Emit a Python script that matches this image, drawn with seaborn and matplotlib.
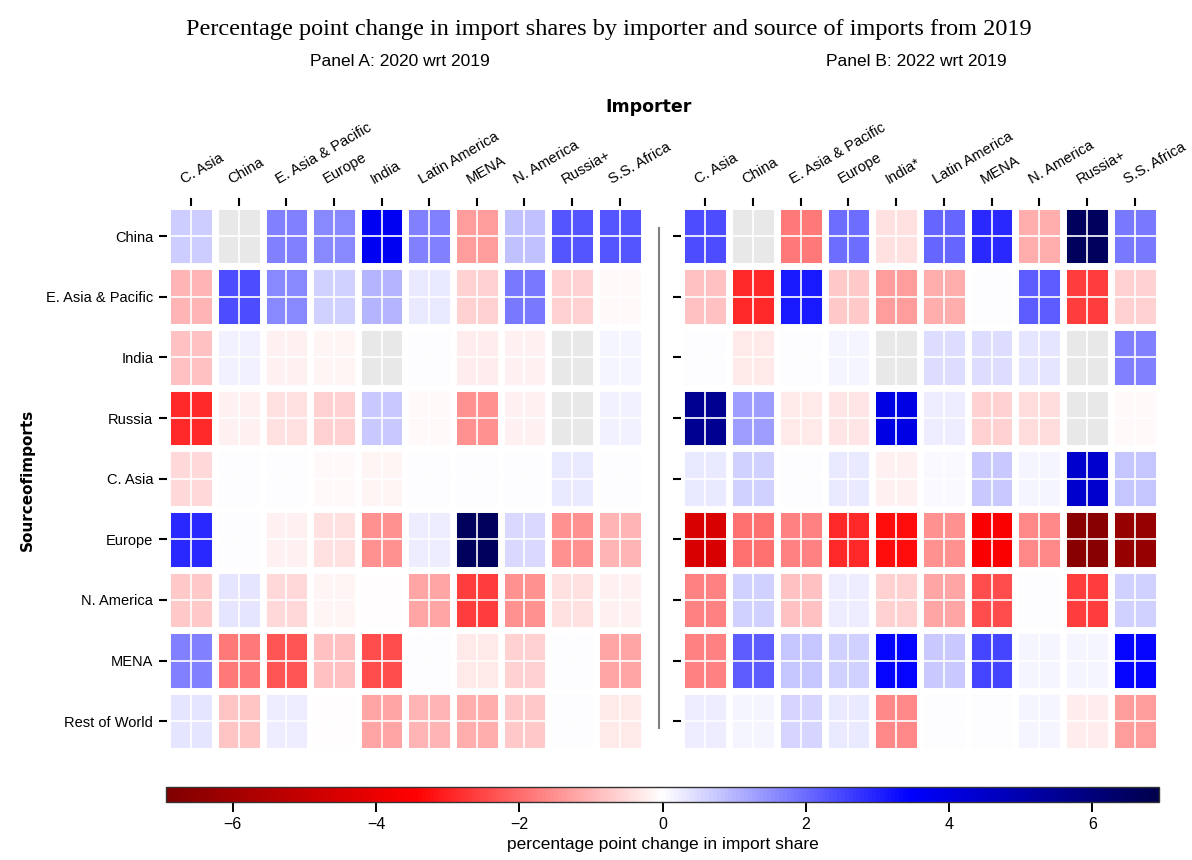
import numpy as np
import matplotlib
matplotlib.use('Agg')
import matplotlib.pyplot as plt
import matplotlib.transforms as mtransforms
import seaborn as sns
from matplotlib import font_manager

nan = np.nan

sources = ['China', 'E. Asia & Pacific', 'India', 'Russia', 'C. Asia',
           'Europe', 'N. America', 'MENA', 'Rest of World']
importers_a = ['C. Asia', 'China', 'E. Asia & Pacific', 'Europe', 'India',
               'Latin America', 'MENA', 'N. America', 'Russia+', 'S.S. Africa']
importers_b = ['C. Asia', 'China', 'E. Asia & Pacific', 'Europe', 'India*',
               'Latin America', 'MENA', 'N. America', 'Russia+', 'S.S. Africa']

# Panel A: 2020 wrt 2019 (rows = source, cols = importer), nan = not shown
panel_a = [
    [0.7, nan, 1.7, 1.6, 3.7, 1.7, -1.3, 0.85, 2.3, 2.3],
    [-1.0, 2.4, 1.6, 0.6, 1.0, 0.3, -0.6, 1.8, -0.6, -0.08],
    [-0.85, 0.2, -0.2, -0.15, nan, 0.02, -0.25, -0.2, nan, 0.12],
    [-2.9, -0.2, -0.4, -0.6, 0.75, -0.1, -1.5, -0.2, nan, 0.2],
    [-0.5, 0.02, 0.02, -0.1, -0.15, 0.05, 0.0, 0.02, 0.3, 0.02],
    [2.9, 0.02, -0.2, -0.4, -1.5, 0.25, 6.6, 0.5, -1.5, -1.0],
    [-0.75, 0.35, -0.5, -0.15, -0.05, -1.2, -2.6, -1.5, -0.4, -0.2],
    [1.7, -1.8, -2.3, -0.85, -2.4, 0.0, -0.3, -0.6, 0.02, -1.2],
    [0.35, -0.8, 0.25, -0.05, -1.2, -1.0, -1.1, -0.75, 0.0, -0.3],
]

# Panel B: 2022 wrt 2019
panel_b = [
    [2.4, nan, -1.8, 2.0, -0.4, 2.1, 2.9, -1.1, 6.6, 1.8],
    [-0.85, -2.9, 3.1, -0.75, -1.3, -1.1, 0.05, 2.2, -2.6, -0.6],
    [0.02, -0.3, 0.05, 0.15, nan, 0.45, 0.45, 0.35, nan, 1.7],
    [5.6, 1.3, -0.3, -0.35, 4.0, 0.25, -0.6, -0.45, nan, -0.1],
    [0.3, 0.6, 0.05, 0.3, -0.2, 0.1, 0.75, 0.15, 4.4, 0.8],
    [-4.5, -1.9, -1.7, -2.9, -3.3, -1.5, -3.6, -1.6, -6.7, -6.3],
    [-1.7, 0.6, -0.85, 0.25, -0.6, -1.2, -2.4, 0.0, -2.6, 0.6],
    [-1.7, 2.2, 0.8, 0.6, 3.4, 0.75, 2.5, 0.15, 0.15, 3.4],
    [0.25, 0.15, 0.55, 0.3, -1.6, 0.05, 0.05, 0.15, -0.25, -1.3],
]

cbar_ticks = [-6, -4, -2, 0, 2, 4, 6]
VLIM = 6.93


def pick_font(names):
    for name in names:
        try:
            font_manager.findfont(font_manager.FontProperties(family=name), fallback_to_default=False)
            return name
        except ValueError:
            pass
    return 'DejaVu Sans'


narrow = pick_font(['Liberation Sans Narrow', 'Liberation Sans'])
serif = pick_font(['Liberation Serif', 'DejaVu Serif'])


def expand(values):
    # jede Zelle als 2x2 Block
    arr = np.array(values, dtype=float)
    return np.repeat(np.repeat(arr, 2, axis=0), 2, axis=1)


def draw_panel(fig, ax, values, importers, show_ylabels, cbar_ax=None):
    data = expand(values)
    sns.heatmap(data, ax=ax, cmap='seismic_r', vmin=-VLIM, vmax=VLIM,
                cbar=cbar_ax is not None, cbar_ax=cbar_ax,
                cbar_kws={'orientation': 'horizontal'} if cbar_ax is not None else None,
                xticklabels=False, yticklabels=False)
    ax.set_facecolor('#e8e8e8')
    for k in range(data.shape[0] + 1):
        ax.axhline(k, color='white', lw=5.0 if k % 2 == 0 else 1.2)
    for k in range(data.shape[1] + 1):
        ax.axvline(k, color='white', lw=5.0 if k % 2 == 0 else 1.2)

    ax.xaxis.tick_top()
    ax.set_xticks(np.arange(len(importers)) * 2 + 1)
    ax.set_xticklabels(importers, rotation=30, ha='left', rotation_mode='anchor',
                       fontsize=10.6, fontfamily=narrow)
    ax.set_yticks(np.arange(len(sources)) * 2 + 1)
    if show_ylabels:
        ax.set_yticklabels(sources, rotation=0, fontsize=10.5, fontfamily=narrow)
    else:
        ax.set_yticklabels([])
    ax.tick_params(axis='x', length=6, width=1.5, pad=8)
    ax.tick_params(axis='y', length=6, width=1.5, pad=4)
    # Beschriftung etwas nach links schieben
    shift = mtransforms.ScaledTranslation(-6 / 100, 0, fig.dpi_scale_trans)
    for lab in ax.get_xticklabels():
        lab.set_transform(lab.get_transform() + shift)
    ax.set_xlabel('')
    ax.set_ylabel('')


fig = plt.figure(figsize=(11.92, 8.6), dpi=100)
ax_a = fig.add_axes([0.1403, 0.1262, 0.3996, 0.6345])
ax_b = fig.add_axes([0.5717, 0.1262, 0.4002, 0.6345])
ax_cb = fig.add_axes([0.1393, 0.0674, 0.833, 0.0174])

draw_panel(fig, ax_a, panel_a, importers_a, True, cbar_ax=ax_cb)
draw_panel(fig, ax_b, panel_b, importers_b, False)

cbar = ax_a.collections[0].colorbar
cbar.outline.set_linewidth(1.0)
cbar.outline.set_edgecolor('#333333')
cbar.set_ticks(cbar_ticks)
cbar.ax.tick_params(length=7, width=1.4, labelsize=11.5)
for lab in cbar.ax.get_xticklabels():
    lab.set_fontfamily(narrow)
cbar.set_label('percentage point change in import share', fontsize=12.5, fontfamily=narrow)

# Trennlinie zwischen den Panels
fig.add_artist(plt.Line2D([659 / 1192, 659 / 1192], [1 - 728 / 860, 1 - 228 / 860],
                          color='#808080', lw=1.5))

fig.text(0.511, 1 - 29 / 860,
         'Percentage point change in import shares by importer and source of imports from 2019',
         ha='center', va='center', fontsize=17.5, fontfamily=serif)
fig.text(400 / 1192, 1 - 61 / 860, 'Panel A: 2020 wrt 2019', ha='center', va='center',
         fontsize=12.5, fontfamily=narrow)
fig.text(916 / 1192, 1 - 61 / 860, 'Panel B: 2022 wrt 2019', ha='center', va='center',
         fontsize=12.5, fontfamily=narrow)
fig.text(649 / 1192, 1 - 107 / 860, 'Importer', ha='center', va='center',
         fontsize=12.5, fontweight='bold', fontfamily='DejaVu Sans')
fig.text(27 / 1192, 1 - 480 / 860, 'Sourceofimports', ha='center', va='center', rotation=90,
         fontsize=11, fontweight='bold', fontfamily='DejaVu Sans')

fig.savefig('out.png', dpi=100, facecolor='white')
